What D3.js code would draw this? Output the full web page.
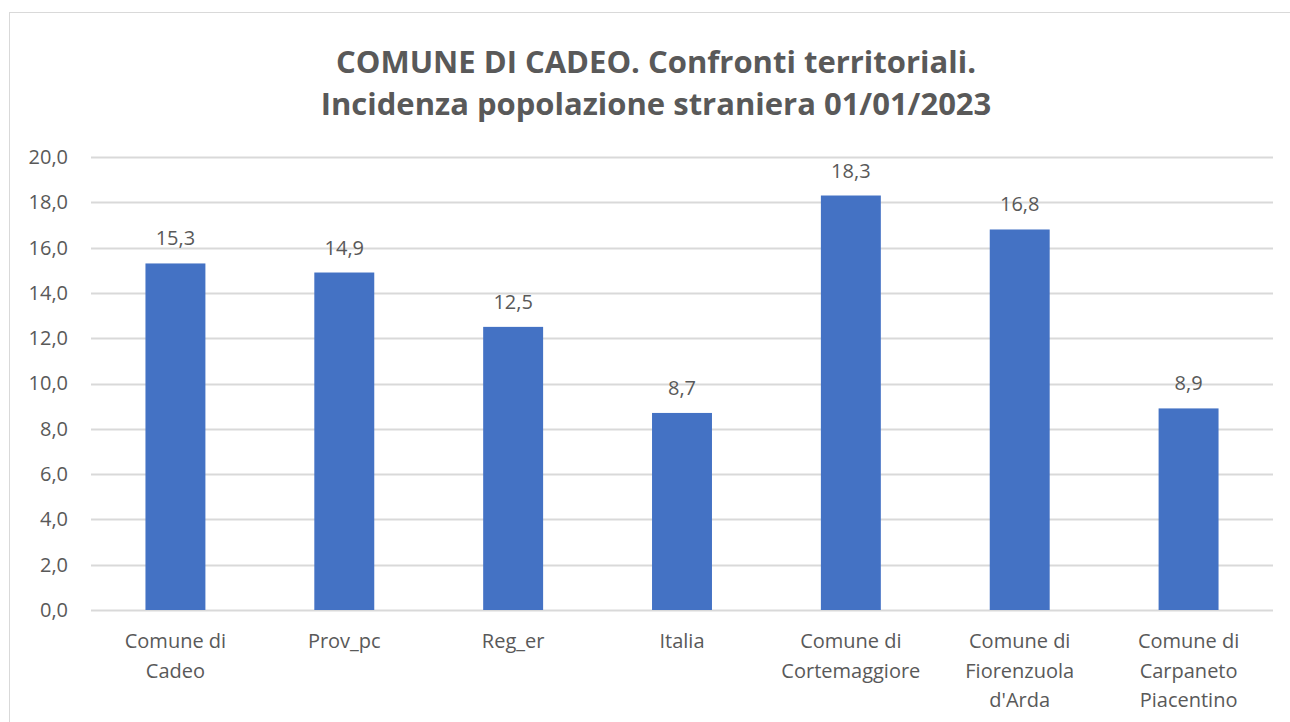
<!DOCTYPE html>
<html>
<head>
<meta charset="utf-8">
<script src="https://cdn.jsdelivr.net/npm/d3@7"></script>
<style>
  body { margin: 0; background: #fff; }
  svg { display: block; font-family: "Open Sans", sans-serif; }
</style>
</head>
<body>
<svg id="chart"></svg>
<script>
// dati
var categories = ["Comune di Cadeo", "Prov_pc", "Reg_er", "Italia",
  "Comune di Cortemaggiore", "Comune di Fiorenzuola d'Arda", "Comune di Carpaneto Piacentino"];
var values = [15.3, 14.9, 12.5, 8.7, 18.3, 16.8, 8.9];
var yTicks = [0, 2, 4, 6, 8, 10, 12, 14, 16, 18, 20];
var titleLines = ["COMUNE DI CADEO. Confronti territoriali.", "Incidenza popolazione straniera 01/01/2023"];

var size = { width: 1290, height: 722 };
var margin = { top: 157, right: 17, bottom: 112, left: 91 };
var width = size.width - margin.left - margin.right;
var height = size.height - margin.top - margin.bottom;

var textColor = "#595959";
var fmt = function(v){ return d3.format(".1f")(v).replace(".", ","); };

var svg = d3.select("#chart")
  .attr("width", size.width)
  .attr("height", size.height);

// cornice
svg.append("rect")
  .attr("x", 9.5).attr("y", 12.5)
  .attr("width", size.width + 10).attr("height", size.height + 10)
  .attr("fill", "none")
  .attr("stroke", "#d9d9d9");

// titolo
svg.append("text")
  .attr("x", 656)
  .attr("y", 73)
  .attr("text-anchor", "middle")
  .attr("fill", textColor)
  .attr("font-size", 31)
  .attr("font-weight", "bold")
  .selectAll("tspan")
  .data(titleLines)
  .enter().append("tspan")
    .attr("x", 656)
    .attr("dy", function(d, i){ return i ? 42 : 0; })
    .text(function(d){ return d; });

var g = svg.append("g")
  .attr("transform", "translate(" + margin.left + "," + margin.top + ")");

var x = d3.scaleBand()
  .domain(categories)
  .range([0, width])
  .paddingInner(0.645)
  .paddingOuter(0.3225);

var y = d3.scaleLinear()
  .domain([0, 20])
  .range([height, 0]);

// griglia
g.append("g")
  .selectAll("line")
  .data(yTicks)
  .enter().append("line")
    .attr("x1", 0).attr("x2", width)
    .attr("y1", function(d){ return Math.round(y(d)) + 0.5; })
    .attr("y2", function(d){ return Math.round(y(d)) + 0.5; })
    .attr("stroke", "#d9d9d9")
    .attr("stroke-width", 2);

// asse y
var yAxis = d3.axisLeft(y)
  .tickValues(yTicks)
  .tickSize(0)
  .tickPadding(23)
  .tickFormat(fmt);

g.append("g")
  .call(yAxis)
  .call(function(a){ a.select(".domain").remove(); })
  .selectAll("text")
    .attr("fill", textColor)
    .attr("font-size", 20)
    .attr("font-family", "Open Sans, sans-serif");

// barre
g.selectAll(".bar")
  .data(values)
  .enter().append("rect")
    .attr("class", "bar")
    .attr("x", function(d, i){ return x(categories[i]); })
    .attr("width", x.bandwidth())
    .attr("y", function(d){ return y(d); })
    .attr("height", function(d){ return height - y(d); })
    .attr("fill", "#4472c4");

// etichette dati
g.selectAll(".lbl")
  .data(values)
  .enter().append("text")
    .attr("class", "lbl")
    .attr("x", function(d, i){ return x(categories[i]) + x.bandwidth() / 2; })
    .attr("y", function(d){ return y(d) - 18; })
    .attr("text-anchor", "middle")
    .attr("fill", textColor)
    .attr("font-size", 20)
    .text(fmt);

// asse x
var xAxis = d3.axisBottom(x).tickSize(0).tickPadding(0);
var xg = g.append("g")
  .attr("transform", "translate(0," + height + ")")
  .call(xAxis);
xg.select(".domain").remove();
xg.selectAll("text")
  .attr("fill", textColor)
  .attr("font-size", 20)
  .attr("font-family", "Open Sans, sans-serif")
  .attr("y", 38)
  .attr("dy", 0)
  .call(wrap, 128);

function wrap(sel, maxW) {
  sel.each(function(){
    var t = d3.select(this);
    var words = t.text().split(/\s+/);
    var lines = [], cur = [];
    t.text(null);
    var probe = t.append("tspan");
    words.forEach(function(w){
      cur.push(w);
      probe.text(cur.join(" "));
      if (probe.node().getComputedTextLength() > maxW && cur.length > 1) {
        cur.pop();
        lines.push(cur.join(" "));
        cur = [w];
      }
    });
    lines.push(cur.join(" "));
    probe.remove();
    lines.forEach(function(l, i){
      t.append("tspan")
        .attr("x", 0)
        .attr("y", 38 + i * 29.5)
        .text(l);
    });
  });
}
</script>
</body>
</html>
